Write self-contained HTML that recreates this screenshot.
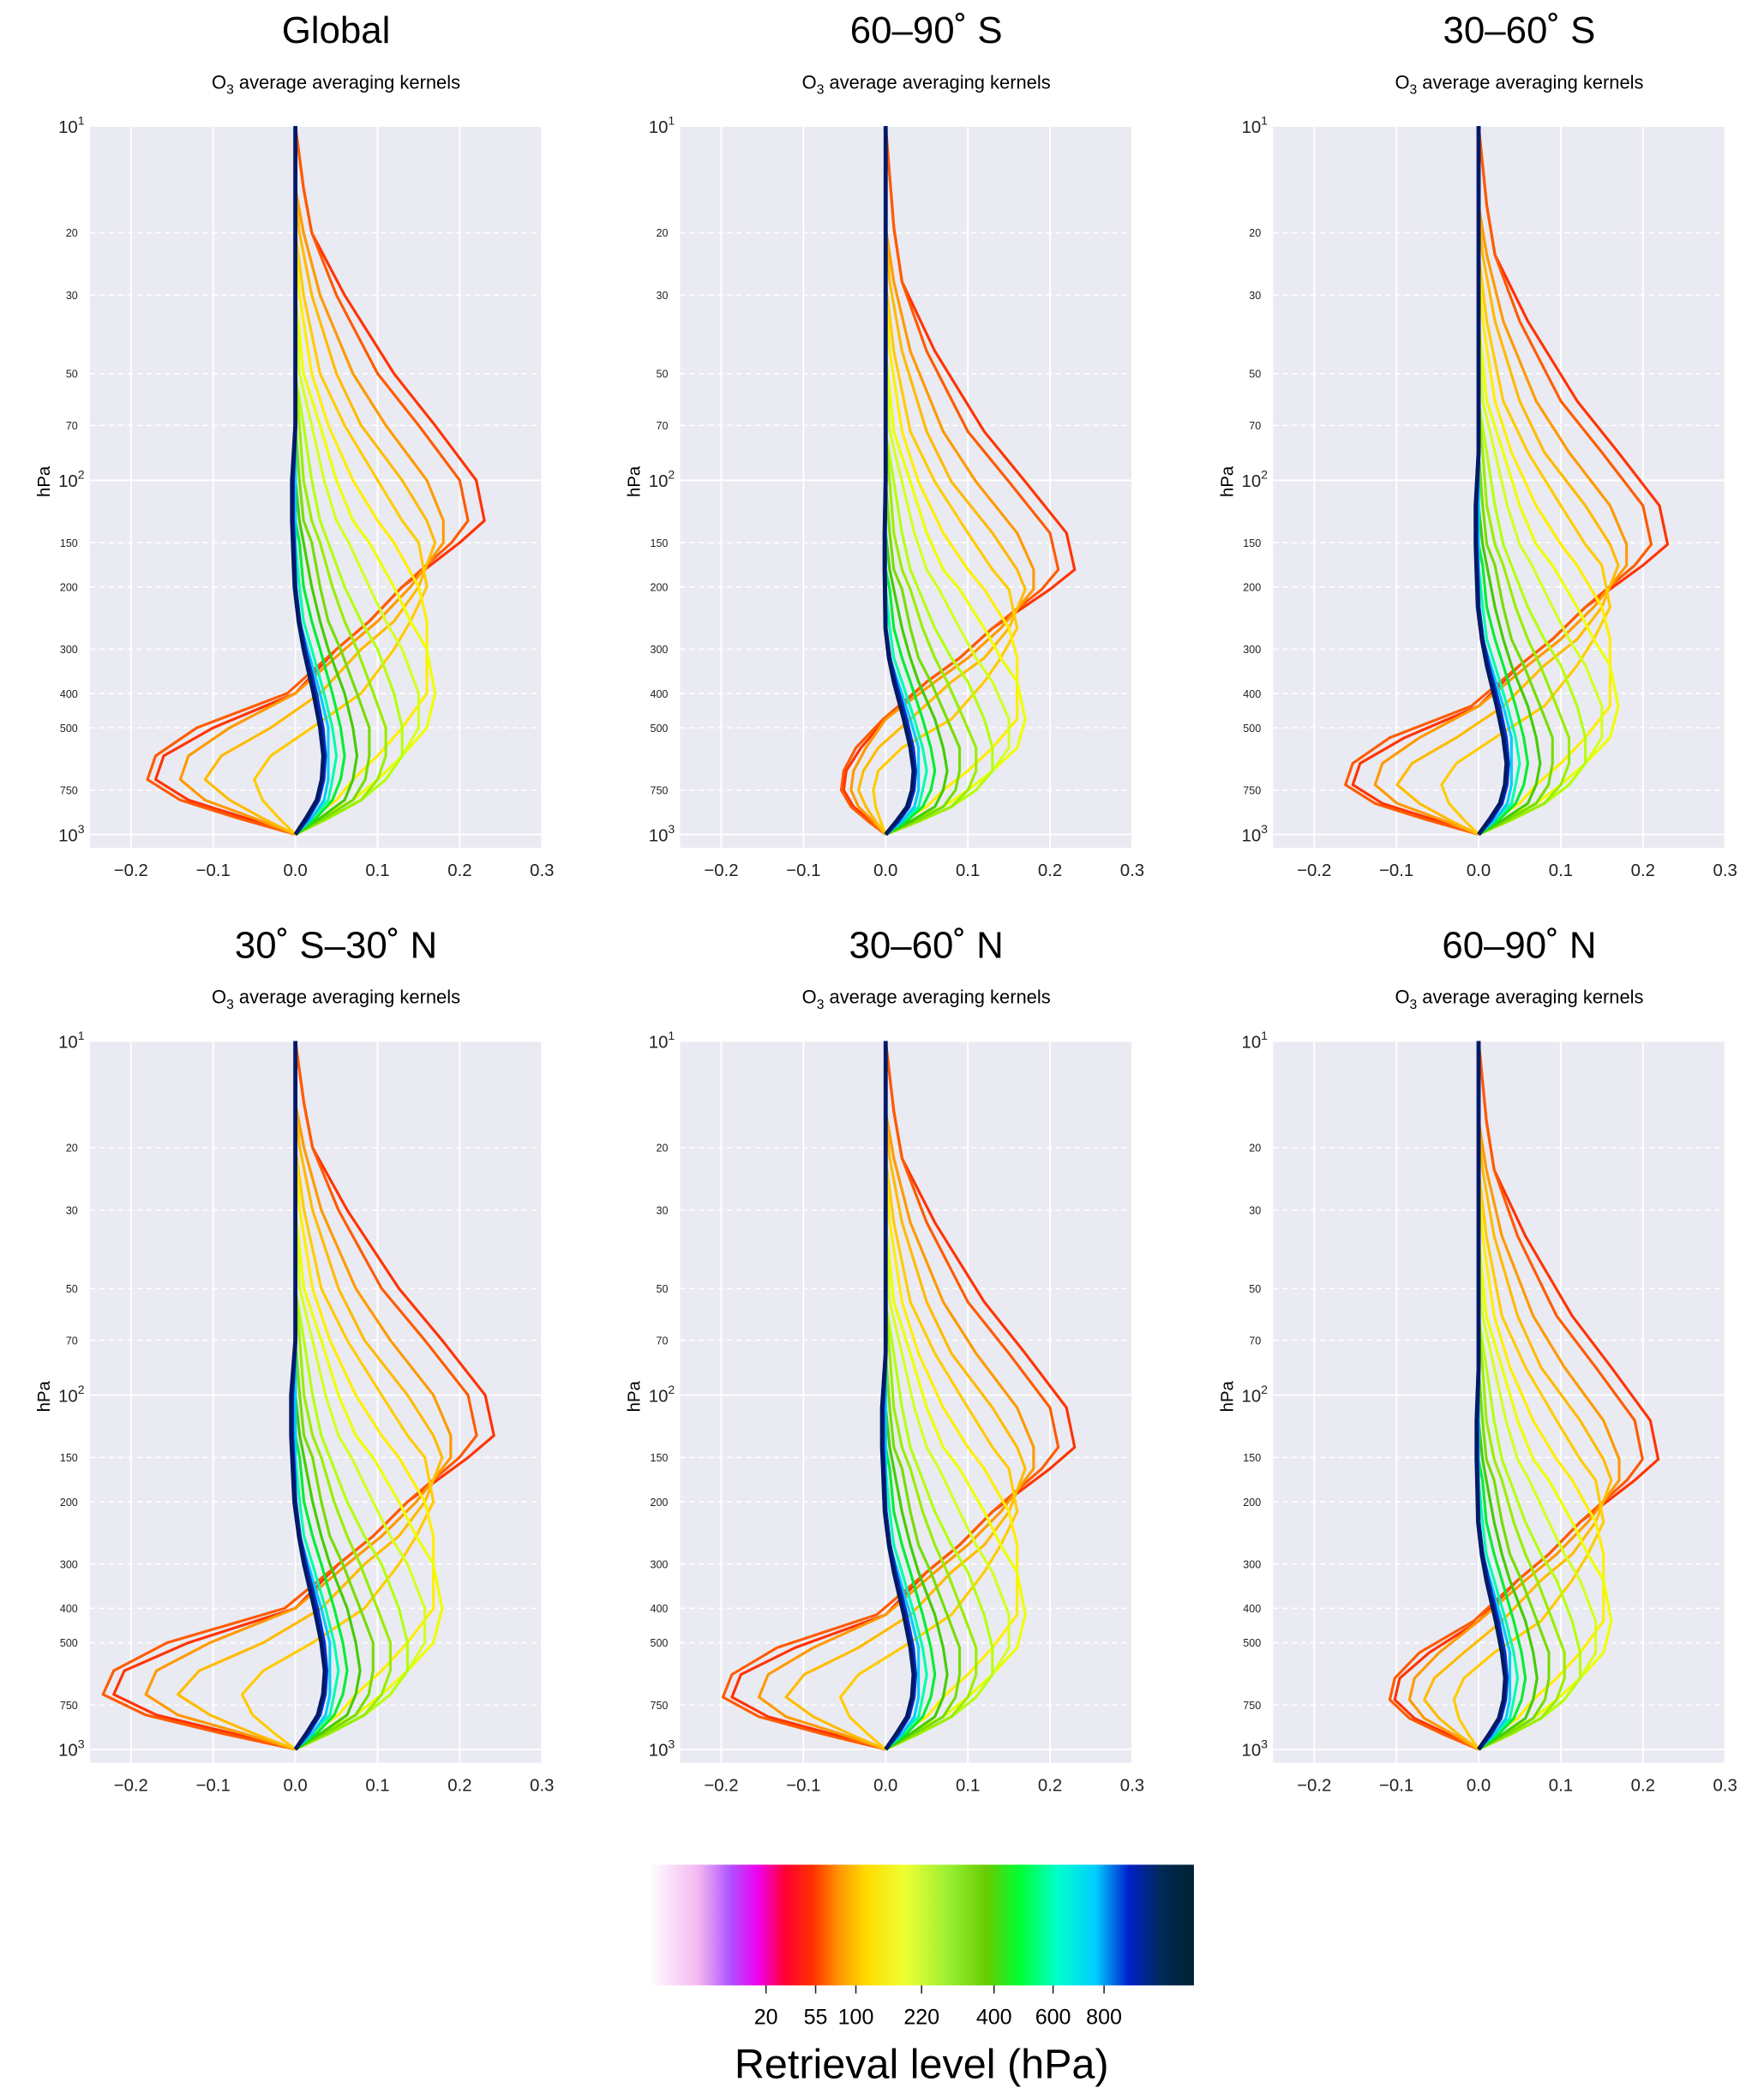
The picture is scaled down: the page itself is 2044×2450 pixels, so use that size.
<!DOCTYPE html>
<html><head><meta charset="utf-8">
<style>
html,body{margin:0;padding:0;background:#fff;}
svg{display:block;font-family:"Liberation Sans",Arial,sans-serif;}
</style></head>
<body>
<svg id="fig" width="2044" height="2450" viewBox="0 0 1306 1565.4" preserveAspectRatio="none" xmlns="http://www.w3.org/2000/svg">
<defs>
<linearGradient id="cbg" x1="0" x2="1" y1="0" y2="0">
<stop offset="0" stop-color="#ffffff"/>
<stop offset="0.09" stop-color="#f2b8f0"/>
<stop offset="0.15" stop-color="#b050ff"/>
<stop offset="0.2" stop-color="#ee00ee"/>
<stop offset="0.25" stop-color="#ff0030"/>
<stop offset="0.3" stop-color="#ff3000"/>
<stop offset="0.35" stop-color="#ff9900"/>
<stop offset="0.4" stop-color="#ffdd00"/>
<stop offset="0.47" stop-color="#eeff33"/>
<stop offset="0.55" stop-color="#99ee33"/>
<stop offset="0.62" stop-color="#66cc00"/>
<stop offset="0.68" stop-color="#00ff33"/>
<stop offset="0.75" stop-color="#00ffcc"/>
<stop offset="0.82" stop-color="#00ccff"/>
<stop offset="0.88" stop-color="#0020cc"/>
<stop offset="0.94" stop-color="#002a55"/>
<stop offset="1" stop-color="#002233"/>
</linearGradient>
</defs>
<g id="panels"></g>
<g>
<rect x="484" y="1390" width="406" height="90" fill="url(#cbg)"/>
</g>
<g id="cbticks"></g>
<text x="687" y="1549" font-size="31" text-anchor="middle">Retrieval level (hPa)</text>
</svg>
<script>
const NS="http://www.w3.org/2000/svg";
const pressureLevels=[10,15,20,30,50,70,100,130,150,200,250,300,400,500,600,700,800,900,1000];
const curveColors=["#ff3300","#ff5a00","#ff9900","#ffbb00","#ffcc00","#ffee00","#eeff00","#d4ff22","#b4ff10","#99ee00","#77dd00","#44cc00","#00ee33","#00ffaa","#00ccff","#0030cc","#001a66"];
const kernels=[
[0,0.01,0.02,0.06,0.12,0.17,0.22,0.23,0.2,0.13,0.09,0.05,0.0,-0.1,-0.16,-0.17,-0.13,-0.06,0],
[0,0.01,0.02,0.05,0.1,0.15,0.2,0.21,0.19,0.13,0.09,0.05,-0.01,-0.12,-0.17,-0.18,-0.14,-0.07,0],
[0,0,0.01,0.03,0.07,0.11,0.16,0.18,0.18,0.14,0.1,0.06,0.0,-0.08,-0.13,-0.14,-0.11,-0.05,0],
[0,0,0.005,0.02,0.05,0.08,0.13,0.16,0.17,0.15,0.12,0.08,0.03,-0.03,-0.09,-0.11,-0.08,-0.04,0],
[0,0,0,0.01,0.03,0.06,0.1,0.13,0.15,0.16,0.14,0.12,0.08,0.02,-0.03,-0.05,-0.04,-0.02,0],
[0,0,0,0.005,0.02,0.04,0.07,0.1,0.12,0.15,0.16,0.16,0.16,0.13,0.1,0.07,0.05,0.02,0],
[0,0,0,0,0.01,0.03,0.05,0.07,0.09,0.12,0.14,0.16,0.17,0.16,0.13,0.1,0.07,0.03,0],
[0,0,0,0,0.005,0.02,0.035,0.05,0.065,0.09,0.11,0.13,0.15,0.15,0.13,0.11,0.08,0.04,0],
[0,0,0,0,0,0.01,0.02,0.03,0.04,0.06,0.08,0.1,0.12,0.13,0.13,0.11,0.08,0.04,0],
[0,0,0,0,0,0.005,0.01,0.02,0.03,0.045,0.06,0.075,0.095,0.11,0.11,0.1,0.08,0.04,0],
[0,0,0,0,0,0,0.005,0.01,0.02,0.03,0.04,0.055,0.075,0.09,0.09,0.085,0.07,0.035,0],
[0,0,0,0,0,0,0,0.005,0.01,0.02,0.03,0.04,0.06,0.07,0.075,0.07,0.06,0.03,0],
[0,0,0,0,0,0,0,0,0.005,0.01,0.02,0.03,0.045,0.055,0.06,0.055,0.045,0.025,0],
[0,0,0,0,0,0,0,0,0,0.005,0.01,0.02,0.035,0.045,0.05,0.045,0.04,0.02,0],
[0,0,0,0,0,0,0,0,0,0,0.005,0.015,0.03,0.04,0.04,0.04,0.035,0.02,0],
[0,0,0,0,0,0,-0.003,-0.003,-0.002,0,0.005,0.012,0.025,0.033,0.036,0.034,0.028,0.015,0],
[0,0,0,0,0,0,-0.004,-0.004,-0.003,-0.001,0.004,0.01,0.022,0.03,0.034,0.032,0.026,0.013,0]
];
const panelTitles=["Global","60\u201390\u02da S","30\u201360\u02da S","30\u02da S\u201330\u02da N","30\u201360\u02da N","60\u201390\u02da N"];
const topScale=[1.0,1.0,1.0,1.05,1.0,0.95];
const negScale=[1.0,0.3,0.9,1.3,1.1,0.6];
const levelShift=[1.0,0.8,0.9,1.0,0.95,0.9];
const xTicks=[-0.2,-0.1,0.0,0.1,0.2,0.3];
const yMajor=[10,100,1000];
const yMinor=[20,30,50,70,150,200,300,400,500,750];
const cbTickVals=["20","55","100","220","400","600","800"];
const cbTickPos=[571,608,638,687,741,785,823];

function el(tag,attrs,parent){const e=document.createElementNS(NS,tag);for(const k in attrs)e.setAttribute(k,attrs[k]);if(parent)parent.appendChild(e);return e;}
const panelsG=document.getElementById("panels");
const colX=[67,507,949], rowY=[94,776];
const AW=337, DEC=264;
panelTitles.forEach((title,i)=>{
  const ax=colX[i%3], ay=rowY[Math.floor(i/3)];
  const g=el("g",{},panelsG);
  
  
  const xs=v=>ax+(v+0.25)/0.55*AW;
  const ys=p=>ay+(Math.log10(p)-1)*DEC;
  const bg=el("rect",{x:ax,y:ay,width:AW,height:538,fill:"#eaeaf2"},g);
  
  
  xTicks.forEach(v=>{
    el("line",{x1:xs(v),x2:xs(v),y1:ay,y2:ay+538,stroke:"#fff","stroke-width":1.2},g);
    const t=el("text",{x:xs(v),y:ay+559,"font-size":13,"text-anchor":"middle",fill:"#222"},g);
    t.textContent=(v<0?"\u2212":"")+Math.abs(v).toFixed(1);
    
    
  });
  yMajor.forEach((p,k)=>{
    el("line",{x1:ax,x2:ax+AW,y1:ys(p),y2:ys(p),stroke:"#fff","stroke-width":1.2},g);
    const t=el("text",{x:ax-4,y:ys(p)+5,"font-size":13,"text-anchor":"end",fill:"#222"},g);
    t.innerHTML="10<tspan dy='-6' font-size='9'>"+(k+1)+"</tspan>";
    
    
  });
  yMinor.forEach(p=>{
    el("line",{x1:ax,x2:ax+AW,y1:ys(p),y2:ys(p),stroke:"#fff","stroke-width":1,"stroke-dasharray":"4,3"},g);
    const t=el("text",{x:ax-9,y:ys(p)+3,"font-size":8,"text-anchor":"end",fill:"#222"},g);
    t.textContent=p;
    
    
  });
  const yl=el("text",{x:ax-30,y:ay+265,"font-size":13,"text-anchor":"middle",transform:`rotate(-90 ${ax-30} ${ay+265})`},g);
  yl.textContent="hPa";
  
  
  const tt=el("text",{x:ax+AW/2+15,y:ay-62,"font-size":28,"text-anchor":"middle"},g);
  tt.textContent=title;
  
  
  const st=el("text",{x:ax+AW/2+15,y:ay-28,"font-size":14,"text-anchor":"middle"},g);
  st.innerHTML="O<tspan dy='4' font-size='10'>3</tspan><tspan dy='-4'> average averaging kernels</tspan>";
  
  
  kernels.forEach((vals,c)=>{
    const pts=vals.map((v,j)=>{
      const t=(Math.log10(pressureLevels[j])-1)/2;
      const tp=Math.pow(t,levelShift[i]);
      const val=v<0?v*negScale[i]:v*topScale[i];
      return xs(val).toFixed(1)+","+(ay+tp*2*DEC).toFixed(1);
    });
    const pl=el("polyline",{points:pts.join(" "),fill:"none",stroke:curveColors[c],"stroke-width":c>=15?3:2,"stroke-linejoin":"round"},g);
    
    
  });
});
const cbt=document.getElementById("cbticks");
cbTickVals.forEach((s,k)=>{
  el("line",{x1:cbTickPos[k],x2:cbTickPos[k],y1:1480,y2:1486,stroke:"#222","stroke-width":1},cbt);
  const t=el("text",{x:cbTickPos[k],y:1509,"font-size":16,"text-anchor":"middle"},cbt);
  t.textContent=s;
  
  
});
</script>
</body></html>
